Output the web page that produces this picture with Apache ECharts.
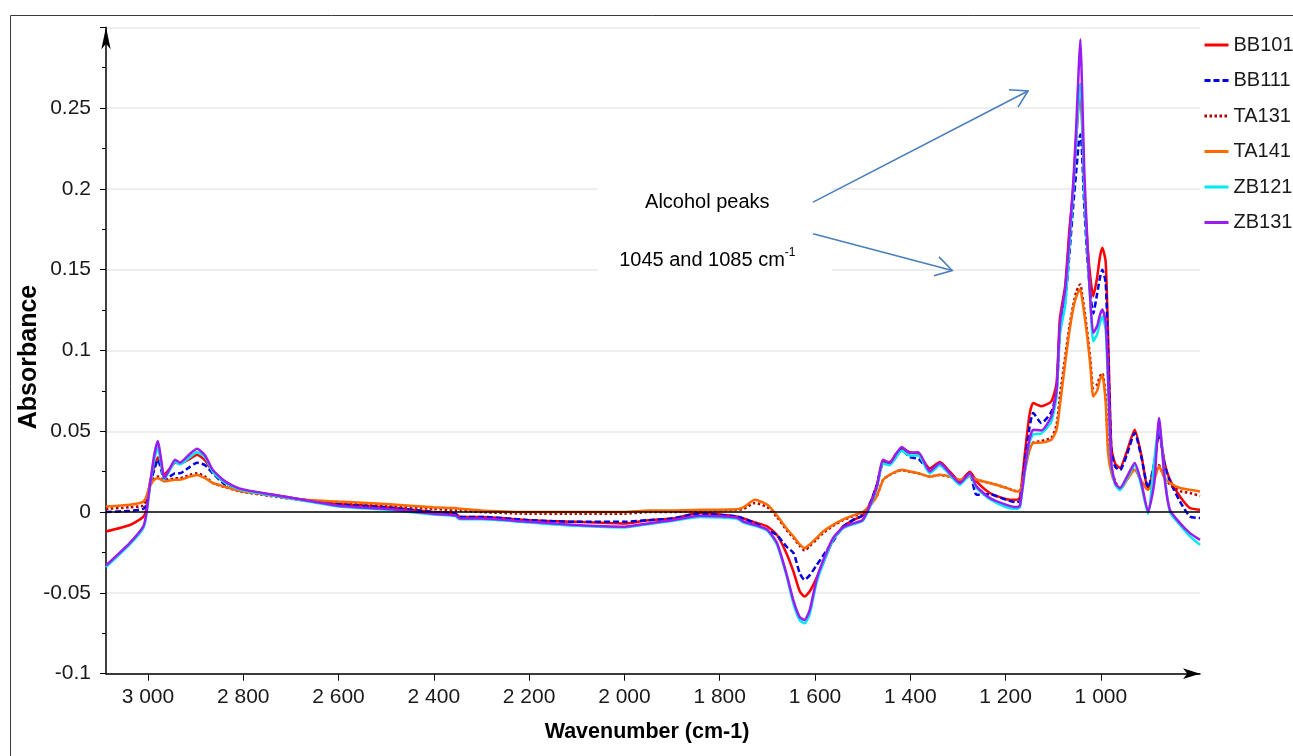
<!DOCTYPE html>
<html>
<head>
<meta charset="utf-8">
<title>FTIR absorbance spectra</title>
<script src="https://cdn.jsdelivr.net/npm/echarts@6/dist/echarts.min.js"></script>
<style>
  html, body { margin: 0; padding: 0; background: #fff; }
  #chart { width: 1293px; height: 756px; }
</style>
</head>
<body>
<div id="chart"></div>
<script>
// Wavenumber sampling (cm-1), shared by every spectrum
const wavenumbers = [
  3088, 3038, 3010, 3004, 2996, 2987, 2979, 2972, 2966, 2954,
  2943, 2933, 2912, 2897, 2880, 2864, 2838, 2807, 2744, 2681,
  2600, 2500, 2400, 2355, 2345, 2300, 2200, 2100, 2000, 1950,
  1900, 1842, 1765, 1750, 1726, 1700, 1680, 1660, 1645, 1632,
  1622, 1611, 1597, 1583, 1562, 1541, 1520, 1500, 1485, 1470,
  1457, 1443, 1430, 1418, 1401, 1383, 1359, 1338, 1317, 1296,
  1275, 1261, 1233, 1198, 1177, 1170, 1160, 1150, 1142, 1125,
  1104, 1093, 1086, 1075, 1066, 1058, 1052, 1046, 1043, 1040,
  1035, 1028, 1022, 1016, 1008, 1002, 997, 990, 985, 978,
  970, 960, 945, 929, 915, 901, 888, 878, 866, 855,
  834, 813, 792
];

const bb101 = [
  -0.012, -0.008, -0.003, 0.001, 0.018, 0.028, 0.034, 0.029, 0.023, 0.027,
  0.0306, 0.030, 0.033, 0.0355, 0.032, 0.025, 0.018, 0.014, 0.011, 0.008,
  0.005, 0.003, 0.0, -0.001, -0.003, -0.003, -0.005, -0.006, -0.007, -0.005,
  -0.004, -0.0006, -0.0027, -0.004, -0.0064, -0.0089, -0.0141, -0.0254, -0.037, -0.049,
  -0.0523, -0.049, -0.041, -0.0316, -0.0172, -0.0089, -0.005, -0.002, 0.005, 0.017,
  0.031, 0.031, 0.036, 0.039, 0.037, 0.036, 0.027, 0.031, 0.025, 0.019,
  0.025, 0.019, 0.0118, 0.008, 0.0076, 0.009, 0.035, 0.060, 0.0675, 0.0655,
  0.0685, 0.080, 0.120, 0.140, 0.175, 0.200, 0.230, 0.255, 0.258, 0.245,
  0.200, 0.165, 0.145, 0.1336, 0.145, 0.158, 0.1636, 0.155, 0.110, 0.040,
  0.030, 0.0274, 0.038, 0.051, 0.035, 0.0138, 0.030, 0.050, 0.030, 0.020,
  0.0097, 0.0025, 0.0014
];

const bb111 = [
  0.0, 0.0008, 0.002, 0.004, 0.016, 0.026, 0.0324, 0.026, 0.020, 0.022,
  0.024, 0.024, 0.028, 0.0306, 0.029, 0.024, 0.017, 0.0135, 0.0105, 0.008,
  0.005, 0.003, 0.0, -0.001, -0.003, -0.003, -0.005, -0.006, -0.006, -0.005,
  -0.004, -0.001, -0.0027, -0.004, -0.0068, -0.011, -0.0141, -0.0213, -0.0254, -0.0378,
  -0.0419, -0.039, -0.033, -0.027, -0.018, -0.009, -0.0048, -0.002, 0.005, 0.017,
  0.030, 0.030, 0.034, 0.039, 0.034, 0.033, 0.026, 0.030, 0.024, 0.018,
  0.024, 0.0107, 0.011, 0.0075, 0.006, 0.007, 0.030, 0.052, 0.0613, 0.0551,
  0.062, 0.075, 0.112, 0.130, 0.160, 0.190, 0.210, 0.230, 0.2337, 0.225,
  0.190, 0.155, 0.135, 0.123, 0.135, 0.145, 0.150, 0.142, 0.100, 0.038,
  0.028, 0.026, 0.036, 0.049, 0.034, 0.015, 0.030, 0.049, 0.029, 0.019,
  0.0065, -0.0027, -0.0037
];

const ta131 = [
  0.002, 0.003, 0.004, 0.008, 0.016, 0.021, 0.022, 0.021, 0.020, 0.020,
  0.021, 0.021, 0.023, 0.024, 0.022, 0.018, 0.0155, 0.0128, 0.010, 0.0075,
  0.006, 0.004, 0.002, 0.001, 0.001, 0.0, -0.001, -0.001, -0.001, 0.0,
  0.0, 0.001, 0.0014, 0.002, 0.0056, 0.003, -0.003, -0.011, -0.016, -0.021,
  -0.0238, -0.021, -0.017, -0.013, -0.0085, -0.005, -0.0025, -0.0005, 0.004, 0.010,
  0.020, 0.023, 0.025, 0.026, 0.025, 0.024, 0.022, 0.023, 0.022, 0.020,
  0.022, 0.020, 0.018, 0.015, 0.013, 0.0135, 0.026, 0.039, 0.043, 0.044,
  0.046, 0.054, 0.072, 0.096, 0.115, 0.128, 0.136, 0.140, 0.1408, 0.136,
  0.126, 0.110, 0.094, 0.0768, 0.079, 0.084, 0.086, 0.072, 0.042, 0.026,
  0.019, 0.0142, 0.021, 0.027, 0.019, 0.014, 0.021, 0.029, 0.021, 0.017,
  0.013, 0.0118, 0.010
];

const ta141 = [
  0.0035, 0.0045, 0.0064, 0.009, 0.016, 0.020, 0.021, 0.020, 0.019, 0.0195,
  0.020, 0.020, 0.022, 0.023, 0.021, 0.018, 0.0157, 0.013, 0.0105, 0.008,
  0.0065, 0.005, 0.003, 0.0025, 0.002, 0.001, 0.0, 0.0, 0.0, 0.001,
  0.001, 0.0014, 0.0018, 0.003, 0.0076, 0.0045, -0.002, -0.010, -0.0151, -0.020,
  -0.0223, -0.020, -0.0161, -0.012, -0.0079, -0.0045, -0.002, 0.0, 0.004, 0.010,
  0.020, 0.0231, 0.025, 0.0262, 0.0252, 0.0241, 0.022, 0.0231, 0.022, 0.020,
  0.0222, 0.020, 0.018, 0.0149, 0.0128, 0.013, 0.025, 0.038, 0.0428, 0.043,
  0.0448, 0.051, 0.066, 0.092, 0.112, 0.126, 0.133, 0.137, 0.1377, 0.133,
  0.123, 0.107, 0.090, 0.0716, 0.075, 0.082, 0.085, 0.068, 0.037, 0.024,
  0.018, 0.0138, 0.020, 0.0262, 0.019, 0.0138, 0.020, 0.0283, 0.021, 0.018,
  0.0149, 0.0138, 0.0128
];

const zb121 = [
  -0.034, -0.020, -0.010, -0.003, 0.015, 0.032, 0.040, 0.029, 0.020, 0.026,
  0.031, 0.0295, 0.034, 0.037, 0.034, 0.025, 0.018, 0.014, 0.0105, 0.0075,
  0.0035, 0.0015, -0.0015, -0.0025, -0.0045, -0.0045, -0.0065, -0.0085, -0.0095, -0.0075,
  -0.0055, -0.003, -0.004, -0.0065, -0.0085, -0.0115, -0.020, -0.039, -0.057, -0.067,
  -0.0688, -0.063, -0.044, -0.032, -0.017, -0.010, -0.0075, -0.0055, 0.003, 0.015,
  0.030, 0.029, 0.034, 0.038, 0.035, 0.035, 0.024, 0.029, 0.023, 0.017,
  0.023, 0.015, 0.008, 0.003, 0.002, 0.003, 0.024, 0.043, 0.048, 0.0486,
  0.056, 0.072, 0.110, 0.128, 0.165, 0.200, 0.230, 0.258, 0.265, 0.250,
  0.200, 0.160, 0.130, 0.1057, 0.110, 0.117, 0.121, 0.113, 0.080, 0.028,
  0.017, 0.0135, 0.021, 0.029, 0.016, -0.001, 0.032, 0.055, 0.022, 0.0,
  -0.008, -0.015, -0.0203
];

const zb131 = [
  -0.033, -0.019, -0.009, -0.002, 0.016, 0.035, 0.044, 0.032, 0.021, 0.027,
  0.0324, 0.0306, 0.036, 0.0392, 0.035, 0.0262, 0.019, 0.0145, 0.011, 0.008,
  0.004, 0.002, -0.001, -0.002, -0.004, -0.004, -0.006, -0.008, -0.009, -0.007,
  -0.005, -0.0023, -0.0033, -0.0058, -0.0079, -0.011, -0.019, -0.038, -0.055, -0.065,
  -0.0667, -0.0605, -0.042, -0.030, -0.016, -0.0095, -0.007, -0.0048, 0.004, 0.016,
  0.0324, 0.0304, 0.036, 0.0403, 0.0366, 0.037, 0.0252, 0.0304, 0.0241, 0.018,
  0.0241, 0.0159, 0.0087, 0.0045, 0.0031, 0.004, 0.026, 0.045, 0.051, 0.0505,
  0.0592, 0.0758, 0.117, 0.138, 0.171, 0.204, 0.237, 0.278, 0.2926, 0.268,
  0.212, 0.1646, 0.1297, 0.111, 0.115, 0.122, 0.1253, 0.118, 0.085, 0.030,
  0.018, 0.0149, 0.022, 0.0304, 0.018, 0.0004, 0.018, 0.0582, 0.020, 0.0014,
  -0.0068, -0.013, -0.0172
];

const seriesNames = ['BB101', 'BB111', 'TA131', 'TA141', 'ZB121', 'ZB131'];
const seriesValues = [bb101, bb111, ta131, ta141, zb121, zb131];
const seriesColors = ['#ff0000', '#0000e0', '#b00000', '#ff6a00', '#00e8f0', '#9b1cf0'];
const seriesDash = ['solid', [6, 3], [2.5, 2.5], 'solid', 'solid', 'solid'];

const xTicks = [3000, 2800, 2600, 2400, 2200, 2000, 1800, 1600, 1400, 1200, 1000];

// Annotation anchors in data space: [wavenumber, absorbance]
const noteTitle = 'Alcohol peaks';
const noteTitleAt = [1826, 0.1916];
const noteBandsAt = [1826, 0.157];
const noteArrows = [
  [[1604, 0.1918], [1153, 0.2606]],
  [[1604, 0.1722], [1312, 0.1495]]
];
const noteBox = [[2056, 0.2183], [1565, 0.1377]];

const SANS = "'Liberation Sans', Arial, sans-serif";
const TEXT = '#1a1a1a';

function thousands(v) {
  return v >= 1000 ? Math.floor(v / 1000) + ' ' + String(v % 1000).padStart(3, '0') : String(v);
}

const chart = echarts.init(document.getElementById('chart'), null, { renderer: 'canvas' });

const series = seriesNames.map((name, i) => {
  const s = {
    name: name,
    type: 'line',
    data: wavenumbers.map((w, k) => [w, seriesValues[i][k]]),
    symbol: 'none',
    showSymbol: false,
    smooth: 0.2,
    lineStyle: { color: seriesColors[i], width: 2.5, type: seriesDash[i] },
    itemStyle: { color: seriesColors[i] },
    emphasis: { disabled: true },
    silent: true
  };
  if (i === 0) {
    s.markLine = {
      silent: true,
      symbol: ['none', 'none'],
      label: { show: false },
      lineStyle: { color: '#000', width: 1.5, type: 'solid' },
      data: [{ yAxis: 0 }]
    };
  }
  return s;
});

chart.setOption({
  animation: false,
  backgroundColor: '#fff',
  grid: { left: 106, right: 93, top: 27.3, bottom: 82.3, containLabel: false, outerBoundsMode: 'none' },
  legend: {
    orient: 'vertical',
    left: 1203,
    top: 35,
    padding: 0,
    itemWidth: 24,
    itemHeight: 12,
    itemGap: 15.5,
    selectedMode: false,
    data: seriesNames,
    itemStyle: { opacity: 0 },
    lineStyle: { width: 3 },
    textStyle: { fontFamily: SANS, fontSize: 20, color: TEXT, padding: 0 }
  },
  xAxis: {
    type: 'value',
    inverse: true,
    min: 792,
    max: 3088,
    axisLine: {
      onZero: false,
      lineStyle: { color: '#000', width: 1.5 },
      symbol: ['none', 'arrow'],
      symbolSize: [8, 17],
      symbolOffset: [0, 0]
    },
    axisTick: { show: true, customValues: xTicks, length: 7, lineStyle: { color: '#000', width: 1 } },
    axisLabel: {
      customValues: xTicks,
      margin: 13,
      formatter: (v) => thousands(v),
      fontFamily: SANS,
      fontSize: 21,
      color: TEXT
    },
    splitLine: { show: false },
    name: 'Wavenumber (cm-1)',
    nameLocation: 'middle',
    nameGap: 47,
    nameMoveOverlap: false,
    nameTextStyle: { fontFamily: SANS, fontWeight: 'bold', fontSize: 21.5, color: '#000', padding: [0, 12, 0, 0] }
  },
  yAxis: {
    type: 'value',
    min: -0.1,
    max: 0.3,
    interval: 0.05,
    axisLine: {
      show: true,
      onZero: false,
      lineStyle: { color: '#000', width: 1.5 },
      symbol: ['none', 'arrow'],
      symbolSize: [7, 22],
      symbolOffset: [0, 0]
    },
    axisTick: { show: true, length: 6, lineStyle: { color: '#000', width: 1 } },
    minorTick: { show: true, splitNumber: 2, length: 4, lineStyle: { color: '#000', width: 1 } },
    axisLabel: {
      margin: 15,
      fontFamily: SANS,
      fontSize: 21,
      color: TEXT,
      formatter: (v) => (v > 0.29 ? '' : String(parseFloat(v.toFixed(3))))
    },
    splitLine: { show: true, lineStyle: { color: '#e8e8e8', width: 1.5 } },
    name: 'Absorbance',
    nameLocation: 'middle',
    nameGap: 64,
    nameMoveOverlap: false,
    nameTextStyle: { fontFamily: SANS, fontWeight: 'bold', fontSize: 25, color: '#000', padding: [0, 13, 0, 0] }
  },
  series: series
});

// Frame, note box, note texts and arrows placed from data-space anchors
function px(pt) { return chart.convertToPixel({ gridIndex: 0 }, pt); }

function arrowShapes(from, to) {
  const a = px(from), b = px(to);
  const ang = Math.atan2(b[1] - a[1], b[0] - a[0]);
  const len = 19, spread = 31 * Math.PI / 180;
  const h1 = [b[0] - len * Math.cos(ang - spread), b[1] - len * Math.sin(ang - spread)];
  const h2 = [b[0] - len * Math.cos(ang + spread), b[1] - len * Math.sin(ang + spread)];
  const style = { stroke: '#4a7ebb', lineWidth: 1.6, fill: null };
  return [
    { type: 'polyline', silent: true, z: 20, shape: { points: [a, b] }, style: style },
    { type: 'polyline', silent: true, z: 20, shape: { points: [h1, b, h2] }, style: style }
  ];
}

const boxA = px(noteBox[0]), boxB = px(noteBox[1]);
const titleP = px(noteTitleAt), bandsP = px(noteBandsAt);

const graphics = [
  {
    type: 'rect', silent: true, z: -1,
    shape: { x: 10.5, y: 15.5, width: 1400, height: 900 },
    style: { fill: null, stroke: '#3a3a3a', lineWidth: 1 }
  },
  {
    type: 'rect', silent: true, z: 15,
    shape: { x: boxA[0], y: boxA[1], width: boxB[0] - boxA[0], height: boxB[1] - boxA[1] },
    style: { fill: '#fff', stroke: null }
  },
  {
    type: 'text', silent: true, z: 20,
    x: titleP[0], y: titleP[1],
    style: { text: noteTitle, font: "20px " + SANS, fill: '#000', align: 'center', verticalAlign: 'middle' }
  },
  {
    type: 'text', silent: true, z: 20,
    x: bandsP[0], y: bandsP[1],
    style: {
      text: '{a|1045 and 1085 cm}{s|-1}',
      align: 'center',
      verticalAlign: 'middle',
      rich: {
        a: { fontFamily: SANS, fontSize: 20, fill: '#000', color: '#000', lineHeight: 24, verticalAlign: 'bottom' },
        s: { fontFamily: SANS, fontSize: 12, fill: '#000', color: '#000', lineHeight: 24, verticalAlign: 'top' }
      }
    }
  }
].concat(...noteArrows.map(ar => arrowShapes(ar[0], ar[1])));

chart.setOption({ graphic: graphics });
</script>
</body>
</html>
